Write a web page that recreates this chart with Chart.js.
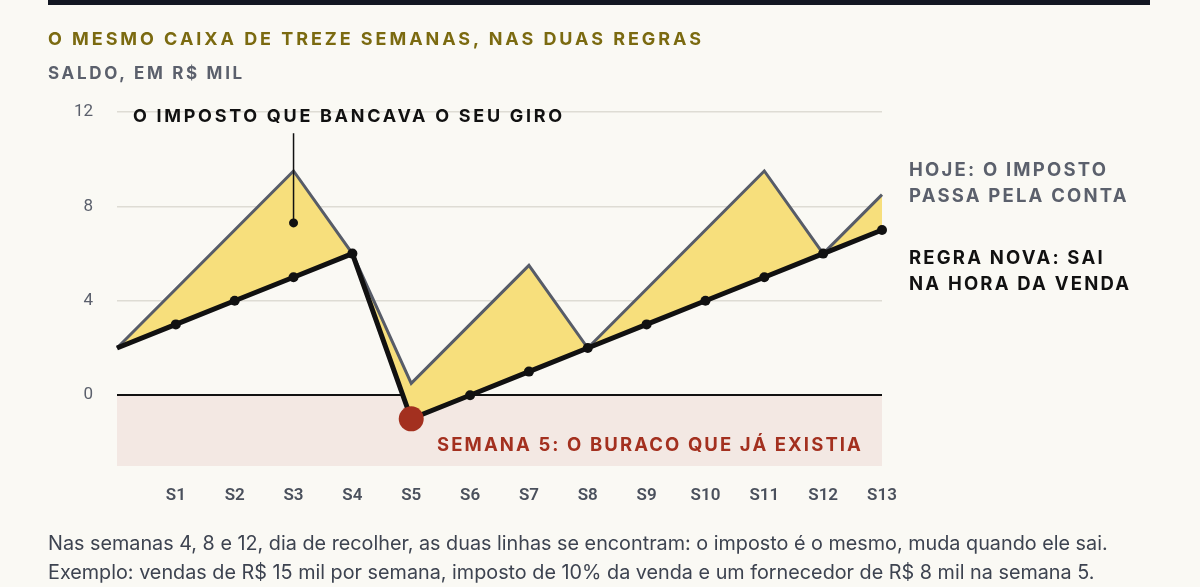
<!DOCTYPE html>
<html>
<head>
<meta charset="utf-8">
<script src="https://cdn.jsdelivr.net/npm/chart.js@4"></script>
<style>
  html, body { margin: 0; padding: 0; background: #faf9f4; }
  body { width: 1200px; height: 587px; position: relative; overflow: hidden; font-family: Inter, "Noto Sans", sans-serif; }
  #bar { position: absolute; left: 48px; top: 0; width: 1102px; height: 5px; background: #131722; }
  .t { position: absolute; white-space: nowrap; font-weight: 700; }
  #title { left: 48px; top: 28px; font-size: 18px; letter-spacing: 2.95px; color: #7b6a10; }
  #unit { left: 48px; top: 63px; font-size: 17px; letter-spacing: 2.7px; color: #5b606c; }
  #ann1 { left: 133px; top: 105px; font-size: 18px; letter-spacing: 2.7px; color: #111; }
  #hole { left: 437px; top: 433px; font-size: 18.5px; letter-spacing: 2.1px; color: #a3301f; }
  #old { left: 909px; top: 156px; font-size: 18.5px; letter-spacing: 2.2px; line-height: 26px; color: #5b606c; }
  #neu { left: 909px; top: 244px; font-size: 18.5px; letter-spacing: 2.2px; line-height: 26px; color: #111; }
  #foot { position: absolute; left: 48px; top: 529px; font-size: 19.8px; line-height: 29px; color: #3d4350; white-space: nowrap; }
  #wrap { position: absolute; left: 0; top: 0; width: 1200px; height: 587px; }
</style>
</head>
<body>
<div id="wrap"><canvas id="chart" width="1200" height="587"></canvas></div>
<div id="bar"></div>
<div class="t" id="title">O MESMO CAIXA DE TREZE SEMANAS, NAS DUAS REGRAS</div>
<div class="t" id="unit">SALDO, EM R$ MIL</div>
<div class="t" id="ann1">O IMPOSTO QUE BANCAVA O SEU GIRO</div>
<div class="t" id="hole">SEMANA 5: O BURACO QUE JÁ EXISTIA</div>
<div class="t" id="old">HOJE: O IMPOSTO<br>PASSA PELA CONTA</div>
<div class="t" id="neu">REGRA NOVA: SAI<br>NA HORA DA VENDA</div>
<div id="foot">Nas semanas 4, 8 e 12, dia de recolher, as duas linhas se encontram: o imposto é o mesmo, muda quando ele sai.<br>Exemplo: vendas de R$ 15 mil por semana, imposto de 10% da venda e um fornecedor de R$ 8 mil na semana 5.</div>
<script>
// semanas (a primeira é o ponto de partida, sem rótulo)
const weeks = ['', 'S1', 'S2', 'S3', 'S4', 'S5', 'S6', 'S7', 'S8', 'S9', 'S10', 'S11', 'S12', 'S13'];
// saldo hoje: o imposto passa pela conta até o dia de recolher
const hoje = [2, 4.5, 7, 9.5, 6, 0.5, 3, 5.5, 2, 4.5, 7, 9.5, 6, 8.5];
// regra nova: o imposto sai na hora da venda
const regraNova = [2, 3, 4, 5, 6, -1, 0, 1, 2, 3, 4, 5, 6, 7];
const yTicks = [0, 4, 8, 12];
const yMin = -3, yMax = 12;
// marcador da anotação (semana 3, do topo até dentro da área)
const annWeek = 3, annFrom = 11.1, annTo = 7.3;
const holeWeek = 5;

const bgPlugin = {
  id: 'bg',
  beforeDraw(chart) {
    const { ctx, chartArea: a, scales: { y } } = chart;
    ctx.save();
    ctx.fillStyle = '#f3e8e3';
    ctx.fillRect(a.left, y.getPixelForValue(0), a.right - a.left, y.getPixelForValue(yMin) - y.getPixelForValue(0));
    ctx.restore();
  },
  afterDatasetsDraw(chart) {
    const { ctx, scales: { x, y } } = chart;
    const px = x.getPixelForValue(annWeek);
    ctx.save();
    ctx.strokeStyle = '#111';
    ctx.lineWidth = 1.5;
    ctx.beginPath();
    ctx.moveTo(px, y.getPixelForValue(annFrom));
    ctx.lineTo(px, y.getPixelForValue(annTo));
    ctx.stroke();
    ctx.fillStyle = '#111';
    ctx.beginPath();
    ctx.arc(px, y.getPixelForValue(annTo), 4.5, 0, Math.PI * 2);
    ctx.fill();
    ctx.restore();
  }
};

new Chart(document.getElementById('chart'), {
  type: 'line',
  data: {
    labels: weeks,
    datasets: [
      {
        label: 'Hoje',
        data: hoje,
        order: 1,
        borderColor: '#575c68',
        borderWidth: 3,
        pointRadius: 0,
        tension: 0,
        fill: { target: 1, above: '#f7df7c', below: '#f7df7c' }
      },
      {
        label: 'Regra nova',
        data: regraNova,
        order: 0,
        borderColor: '#111111',
        borderWidth: 5,
        tension: 0,
        fill: false,
        pointRadius: regraNova.map((v, i) => i === 0 ? 0 : (i === holeWeek ? 12.5 : 5)),
        pointBackgroundColor: regraNova.map((v, i) => i === holeWeek ? '#a3301f' : '#111111'),
        pointBorderWidth: 0
      }
    ]
  },
  options: {
    responsive: false,
    animation: false,
    devicePixelRatio: 1,
    layout: { padding: { left: 0, right: 318, top: 112, bottom: 71 } },
    plugins: { legend: { display: false }, tooltip: { enabled: false } },
    scales: {
      x: {
        offset: false,
        grid: { display: false, drawTicks: false },
        border: { display: false },
        ticks: { padding: 20, color: '#4a505c', font: { family: 'Roboto', size: 17, weight: '600' }, maxRotation: 0, autoSkip: false },
        afterFit(s) { s.height = 50; }
      },
      y: {
        min: yMin,
        max: yMax,
        afterBuildTicks(s) { s.ticks = yTicks.map(v => ({ value: v })); },
        grid: {
          drawTicks: false,
          color: c => c.tick && c.tick.value === 0 ? '#111111' : '#dedcd4',
          lineWidth: c => c.tick && c.tick.value === 0 ? 2 : 1.5
        },
        border: { display: false },
        ticks: { padding: 24, color: '#5b606c', font: { family: 'Roboto', size: 17 } },
        afterFit(s) { s.width = 117; }
      }
    }
  },
  plugins: [bgPlugin]
});
</script>
</body>
</html>
